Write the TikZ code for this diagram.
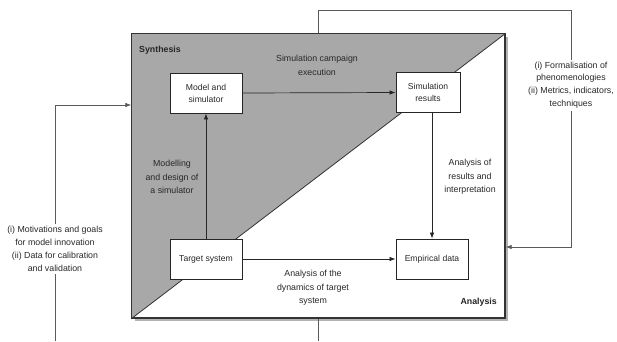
\documentclass[tikz,border=0pt]{standalone}
\usepackage{fontspec}
\setmainfont{Liberation Sans}
\usetikzlibrary{arrows.meta,shadows}
\definecolor{fillgray}{RGB}{168,168,168}
\definecolor{txt}{RGB}{40,40,40}
\definecolor{loopline}{RGB}{90,90,90}
\tikzset{
  box/.style={draw=black!85, line width=0.9pt, fill=white, inner sep=0pt, align=center, font=\fontsize{8.6}{12}\selectfont, text=txt},
  lbl/.style={align=center, inner sep=0pt, font=\fontsize{8.8}{13.6}\selectfont, text=txt},
  side/.style={align=center, inner sep=2pt, fill=white, font=\fontsize{8.8}{12.8}\selectfont, text=txt},
  arr/.style={draw=black!85, line width=0.7pt, -{Latex[length=6pt,width=4.5pt]}},
  loop/.style={draw=loopline, line width=0.7pt},
  looparr/.style={loop, -{Latex[length=6pt,width=4.5pt]}}
}
\begin{document}
\begin{tikzpicture}[x=1pt,y=-1pt]
\useasboundingbox (0,0) rectangle (617,341);
% main frame
\node[draw=black!80, line width=1.4pt, fill=white, minimum width=373pt, minimum height=284pt, inner sep=0pt,
      drop shadow={shadow xshift=2.5pt, shadow yshift=-2.5pt, opacity=0.6}] (main) at (318.5,176) {};
\fill[fillgray] (main.south west) -- (main.north west) -- (main.north east) -- cycle;
\draw[black!80, line width=0.8pt] (main.south west) -- (main.north east);
\draw[black!80, line width=1.4pt] (main.south west) rectangle (main.north east);
\node[anchor=west, font=\bfseries\fontsize{8.8}{10}\selectfont, text=black!85, inner sep=0pt] (syn) at (139,50) {Synthesis};
\node[anchor=east, font=\bfseries\fontsize{8.8}{10}\selectfont, text=black!85, inner sep=0pt] (ana) at (497,302) {Analysis};
% boxes
\node[box, minimum width=72pt, minimum height=40pt] (model) at (206,93) {Model and\\simulator};
\node[box, minimum width=64pt, minimum height=40pt] (simres) at (428,92.5) {Simulation\\results};
\node[box, minimum width=72pt, minimum height=40pt] (target) at (206,259) {Target system};
\node[box, minimum width=72pt, minimum height=40pt] (emp) at (432,259) {Empirical data};
% arrows
\draw[arr] (model.east) -- (simres.west);
\draw[arr] (target.north) -- (model.south);
\draw[arr] (emp.north |- simres.south) -- (emp.north);
\draw[arr] (target.east) -- (emp.west);
% labels
\node[lbl] (l1) at (317,65.5) {Simulation campaign\\execution};
\node[lbl] (l2) at (172,177) {Modelling\\and design of\\a simulator};
\node[lbl] (l3) at (470,177) {Analysis of\\results and\\interpretation};
\node[lbl] (l4) at (313,288) {Analysis of the\\dynamics of target\\system};
% loops
\coordinate (lb) at (55,341);
\coordinate (y105) at (0,105);
\coordinate (inL) at (main.west |- y105);
\node[side] (left) at (55,249) {(i) Motivations and goals\\for model innovation\\(ii) Data for calibration\\and validation};
\draw[loop] (lb) -- (left.south);
\draw[looparr] (left.north) |- (inL);
\coordinate (top) at (main.north |- {0,10});
\coordinate (tr) at (571,10);
\coordinate (y247) at (0,247);
\coordinate (inR) at (main.east |- y247);
\node[side] (right) at (571,85) {(i) Formalisation of\\phenomenologies\\(ii) Metrics, indicators,\\techniques};
\draw[loop] (main.north) |- (tr) -- (right.north);
\draw[looparr] (right.south) |- (inR);
\coordinate (bb) at (main.south |- {0,341});
\draw[loop] (main.south) -- (bb);
\end{tikzpicture}
\end{document}
